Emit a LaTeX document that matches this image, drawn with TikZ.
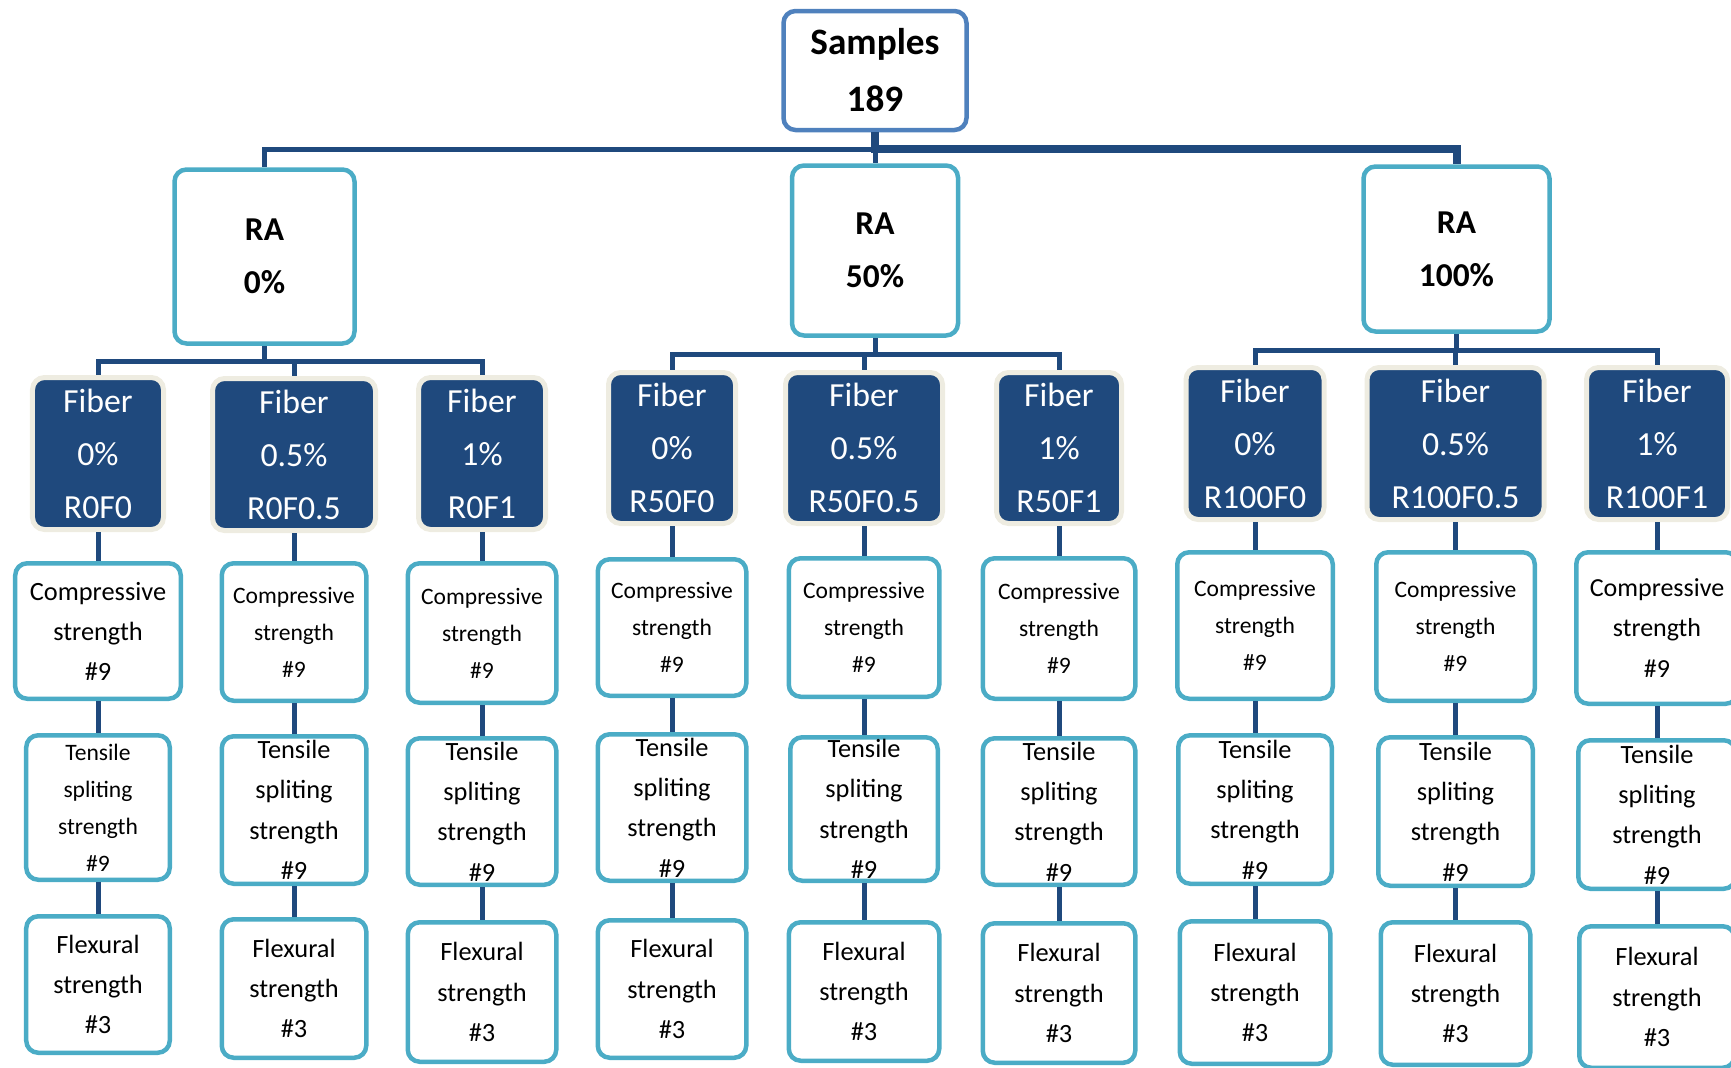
\documentclass[tikz,border=0pt]{standalone}
\usepackage{fontspec}
\setmainfont{Carlito}
\usepackage{xcolor}
\usepackage{tikz}

\definecolor{navy}{HTML}{1F497D}
\definecolor{teal}{HTML}{4BACC6}
\definecolor{steel}{HTML}{4F81BD}
\definecolor{rim}{HTML}{EEECE1}

\begin{document}
\begin{tikzpicture}[
  box/.style={fill=white, line width=0.045cm, rounded corners=0.12cm, align=center, inner sep=0pt},
  samplebox/.style={box, draw=steel, font=\bfseries\fontsize{10.6}{16.2}\selectfont},
  rabox/.style={box, draw=teal, font=\bfseries\fontsize{9.5}{15}\selectfont},
  fiberbox/.style={draw=rim, fill=navy, text=white, line width=0.05cm, rounded corners=0.12cm, align=center, inner sep=0pt, font=\fontsize{9.6}{15.1}\selectfont},
  testbox/.style={box, draw=teal, font=\fontsize{7.5}{11.5}\selectfont},
  smalltext/.style={font=\fontsize{6.7}{10.5}\selectfont},
  link/.style={draw=navy, line width=0.05cm},
  mainlink/.style={link, line width=0.08cm}
]
\useasboundingbox (0,0) rectangle (17.31,-10.68);

% Top
\node[samplebox, minimum width=1.83cm, minimum height=1.19cm] (samples) at (8.75,-0.705) {Samples\\189};

% RA levels
\node[rabox, minimum width=1.80cm, minimum height=1.74cm] (ra0) at (2.645,-2.565) {RA\\0\%};
\node[rabox, minimum width=1.66cm, minimum height=1.70cm] (ra50) at (8.75,-2.505) {RA\\50\%};
\node[rabox, minimum width=1.86cm, minimum height=1.65cm] (ra100) at (14.565,-2.49) {RA\\100\%};

% Fiber mixes
\node[fiberbox, minimum width=1.31cm, minimum height=1.52cm] (r0f0) at (0.98,-4.535) {Fiber\\0\%\\R0F0};
\node[fiberbox, minimum width=1.63cm, minimum height=1.52cm] (r0f05) at (2.94,-4.545) {Fiber\\0.5\%\\R0F0.5};
\node[fiberbox, minimum width=1.27cm, minimum height=1.52cm] (r0f1) at (4.82,-4.535) {Fiber\\1\%\\R0F1};
\node[fiberbox, minimum width=1.27cm, minimum height=1.51cm] (r50f0) at (6.72,-4.48) {Fiber\\0\%\\R50F0};
\node[fiberbox, minimum width=1.57cm, minimum height=1.51cm] (r50f05) at (8.64,-4.48) {Fiber\\0.5\%\\R50F0.5};
\node[fiberbox, minimum width=1.25cm, minimum height=1.51cm] (r50f1) at (10.59,-4.48) {Fiber\\1\%\\R50F1};
\node[fiberbox, minimum width=1.38cm, minimum height=1.52cm] (r100f0) at (12.55,-4.435) {Fiber\\0\%\\R100F0};
\node[fiberbox, minimum width=1.77cm, minimum height=1.52cm] (r100f05) at (14.555,-4.435) {Fiber\\0.5\%\\R100F0.5};
\node[fiberbox, minimum width=1.41cm, minimum height=1.52cm] (r100f1) at (16.57,-4.435) {Fiber\\1\%\\R100F1};

% Compressive strength
\node[testbox, minimum width=1.655cm, minimum height=1.355cm, font=\fontsize{7.5}{11.4}\selectfont] (cs1) at (0.98,-6.31) {Compressive\\strength\\\#9};
\node[testbox, smalltext, minimum width=1.445cm, minimum height=1.375cm] (cs2) at (2.94,-6.32) {Compressive\\strength\\\#9};
\node[testbox, smalltext, minimum width=1.485cm, minimum height=1.395cm] (cs3) at (4.82,-6.33) {Compressive\\strength\\\#9};
\node[testbox, smalltext, minimum width=1.485cm, minimum height=1.365cm] (cs4) at (6.72,-6.275) {Compressive\\strength\\\#9};
\node[testbox, smalltext, minimum width=1.505cm, minimum height=1.385cm] (cs5) at (8.64,-6.275) {Compressive\\strength\\\#9};
\node[testbox, smalltext, minimum width=1.525cm, minimum height=1.405cm] (cs6) at (10.59,-6.285) {Compressive\\strength\\\#9};
\node[testbox, smalltext, minimum width=1.555cm, minimum height=1.465cm] (cs7) at (12.55,-6.255) {Compressive\\strength\\\#9};
\node[testbox, smalltext, minimum width=1.585cm, minimum height=1.485cm] (cs8) at (14.555,-6.265) {Compressive\\strength\\\#9};
\node[testbox, minimum width=1.615cm, minimum height=1.515cm, font=\fontsize{7.4}{11.6}\selectfont] (cs9) at (16.57,-6.28) {Compressive\\strength\\\#9};

% Tensile splitting strength
\node[testbox, smalltext, minimum width=1.435cm, minimum height=1.445cm] (ts1) at (0.98,-8.075) {Tensile\\spliting\\strength\\\#9};
\node[testbox, minimum width=1.445cm, minimum height=1.475cm] (ts2) at (2.94,-8.10) {Tensile\\spliting\\strength\\\#9};
\node[testbox, minimum width=1.485cm, minimum height=1.465cm] (ts3) at (4.82,-8.115) {Tensile\\spliting\\strength\\\#9};
\node[testbox, minimum width=1.485cm, minimum height=1.465cm] (ts4) at (6.72,-8.075) {Tensile\\spliting\\strength\\\#9};
\node[testbox, minimum width=1.475cm, minimum height=1.435cm] (ts5) at (8.64,-8.09) {Tensile\\spliting\\strength\\\#9};
\node[testbox, minimum width=1.525cm, minimum height=1.465cm] (ts6) at (10.59,-8.115) {Tensile\\spliting\\strength\\\#9};
\node[testbox, minimum width=1.535cm, minimum height=1.485cm] (ts7) at (12.55,-8.095) {Tensile\\spliting\\strength\\\#9};
\node[testbox, minimum width=1.545cm, minimum height=1.485cm] (ts8) at (14.555,-8.115) {Tensile\\spliting\\strength\\\#9};
\node[testbox, minimum width=1.575cm, minimum height=1.485cm] (ts9) at (16.57,-8.145) {Tensile\\spliting\\strength\\\#9};

% Flexural strength
\node[testbox, minimum width=1.435cm, minimum height=1.365cm] (fs1) at (0.98,-9.845) {Flexural\\strength\\\#3};
\node[testbox, minimum width=1.445cm, minimum height=1.385cm] (fs2) at (2.94,-9.885) {Flexural\\strength\\\#3};
\node[testbox, minimum width=1.485cm, minimum height=1.395cm] (fs3) at (4.82,-9.92) {Flexural\\strength\\\#3};
\node[testbox, minimum width=1.485cm, minimum height=1.375cm] (fs4) at (6.72,-9.89) {Flexural\\strength\\\#3};
\node[testbox, minimum width=1.505cm, minimum height=1.385cm] (fs5) at (8.64,-9.915) {Flexural\\strength\\\#3};
\node[testbox, minimum width=1.525cm, minimum height=1.395cm] (fs6) at (10.59,-9.93) {Flexural\\strength\\\#3};
\node[testbox, minimum width=1.505cm, minimum height=1.425cm] (fs7) at (12.55,-9.925) {Flexural\\strength\\\#3};
\node[testbox, minimum width=1.495cm, minimum height=1.425cm] (fs8) at (14.555,-9.935) {Flexural\\strength\\\#3};
\node[testbox, minimum width=1.555cm, minimum height=1.415cm] (fs9) at (16.57,-9.97) {Flexural\\strength\\\#3};

% Bus points
\coordinate (bus0) at (8.75,-1.49);
\coordinate (bus1) at (2.645,-3.615);
\coordinate (bus2) at (8.75,-3.545);
\coordinate (bus3) at (14.565,-3.50);

% Links
\draw[mainlink] (samples.south) -- (bus0) -| (ra100.north);
\draw[link] (bus0) -| (ra0.north);
\draw[link] (bus0) -- (ra50.north);

\draw[link] (ra0.south) -- (bus1) -| (r0f0.north);
\draw[link] (bus1) -| (r0f05.north);
\draw[link] (bus1) -| (r0f1.north);
\draw[link] (ra50.south) -- (bus2) -| (r50f0.north);
\draw[link] (bus2) -| (r50f05.north);
\draw[link] (bus2) -| (r50f1.north);
\draw[link] (ra100.south) -- (bus3) -| (r100f0.north);
\draw[link] (bus3) -| (r100f05.north);
\draw[link] (bus3) -| (r100f1.north);

\draw[link] (r0f0) -- (cs1) (cs1) -- (ts1) (ts1) -- (fs1);
\draw[link] (r0f05) -- (cs2) (cs2) -- (ts2) (ts2) -- (fs2);
\draw[link] (r0f1) -- (cs3) (cs3) -- (ts3) (ts3) -- (fs3);
\draw[link] (r50f0) -- (cs4) (cs4) -- (ts4) (ts4) -- (fs4);
\draw[link] (r50f05) -- (cs5) (cs5) -- (ts5) (ts5) -- (fs5);
\draw[link] (r50f1) -- (cs6) (cs6) -- (ts6) (ts6) -- (fs6);
\draw[link] (r100f0) -- (cs7) (cs7) -- (ts7) (ts7) -- (fs7);
\draw[link] (r100f05) -- (cs8) (cs8) -- (ts8) (ts8) -- (fs8);
\draw[link] (r100f1) -- (cs9) (cs9) -- (ts9) (ts9) -- (fs9);

\end{tikzpicture}
\end{document}
